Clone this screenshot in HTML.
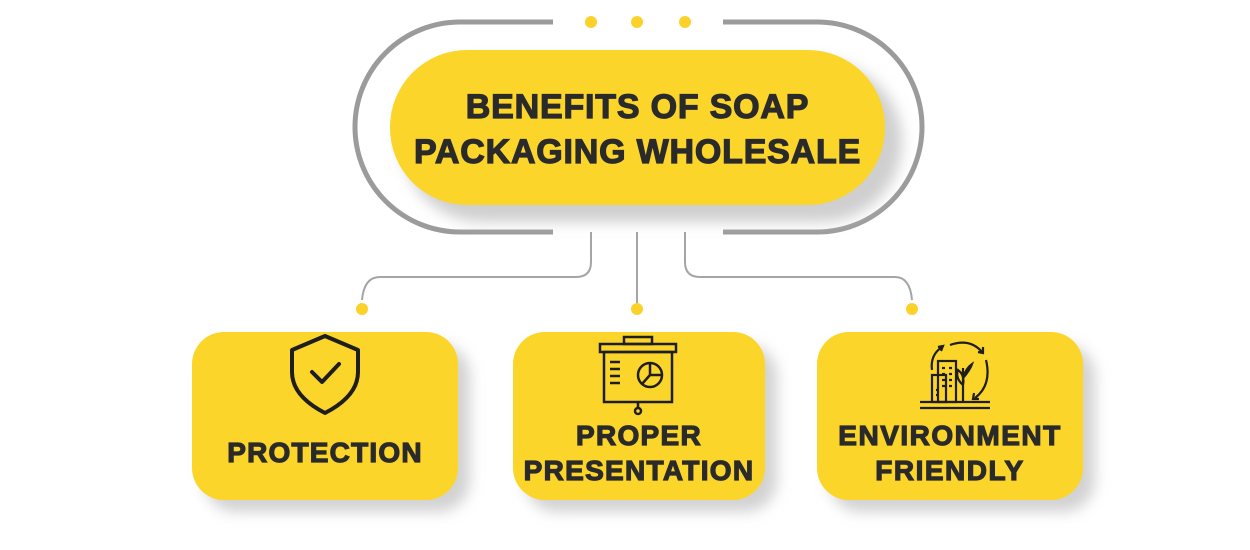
<!DOCTYPE html>
<html><head><meta charset="utf-8"><style>
html,body{margin:0;padding:0;background:#fff;}
body{width:1250px;height:550px;position:relative;overflow:hidden;font-family:"Liberation Sans",sans-serif;}
.t{position:absolute;font-weight:900;color:#2a2a2a;text-align:center;white-space:nowrap;-webkit-text-stroke:1.2px #2a2a2a;}
</style></head><body>
<svg width="1250" height="550" style="position:absolute;left:0;top:0">
<defs>
<filter id="sh" x="-20%" y="-20%" width="150%" height="160%"><feGaussianBlur stdDeviation="7"/></filter>
</defs>
<path d="M553 22 H460 A105 105 0 0 0 460 232 H553" fill="none" stroke="#9b9b9b" stroke-width="5"/>
<path d="M723 22 H817 A105 105 0 0 1 817 232 H723" fill="none" stroke="#9b9b9b" stroke-width="5"/>
<circle cx="591" cy="22" r="6" fill="#fcd22a"/>
<circle cx="637" cy="22" r="6" fill="#fcd22a"/>
<circle cx="685" cy="22" r="6" fill="#fcd22a"/>
<rect x="402" y="62" width="500" height="160" rx="80" fill="#cfcfcf" filter="url(#sh)"/>
<rect x="390" y="50" width="495" height="155" rx="77" fill="#fcd52a"/>
<g fill="none" stroke="#a5a5a5" stroke-width="2">
<path d="M591 232 V262 Q591 277 576 277 H380 Q364 277 362 300"/>
<path d="M637 232 V305"/>
<path d="M685 232 V262 Q685 277 700 277 H895 Q910 277 912 300"/>
</g>
<circle cx="362" cy="309" r="6" fill="#fcd22a"/>
<circle cx="637" cy="309" r="6" fill="#fcd22a"/>
<circle cx="912" cy="309" r="6" fill="#fcd22a"/>
<rect x="204" y="344" width="266" height="168" rx="32" fill="#d2d2d2" filter="url(#sh)"/>
<rect x="525" y="344" width="252" height="168" rx="32" fill="#d2d2d2" filter="url(#sh)"/>
<rect x="829" y="344" width="266" height="168" rx="32" fill="#d2d2d2" filter="url(#sh)"/>
<rect x="192" y="332" width="266" height="168" rx="32" fill="#fcd52a"/>
<rect x="513" y="332" width="252" height="168" rx="32" fill="#fcd52a"/>
<rect x="817" y="332" width="266" height="168" rx="32" fill="#fcd52a"/>
<g fill="none" stroke="#1e1e1e" stroke-width="4" stroke-linejoin="round" stroke-linecap="round">
<path d="M325 336 L358 350 V372 Q358 396 325 413 Q292 396 292 372 V350 Z"/>
<path d="M312 372 L322 382 L339 364"/>
</g>
<g fill="none" stroke="#1e1e1e" stroke-width="2.5">
<rect x="624" y="337" width="28" height="7"/>
<rect x="600" y="344" width="76" height="8"/>
<rect x="604" y="352" width="68" height="50"/>
<path d="M610 362h10M610 369h10M610 376h10M610 383h10"/>
<circle cx="650" cy="375" r="12"/>
<path d="M650 363 V375 H662 M650 375 L642 384"/>
<path d="M638 402 V408"/><circle cx="638" cy="411" r="3"/>
</g>
<g fill="none" stroke="#1e1e1e" stroke-width="2.2">
<path d="M920 402 H990 M920 408 H990"/>
<rect x="932" y="375" width="14" height="27"/>
<rect x="938" y="361" width="18" height="41"/>
<path d="M942 368h3M949 368h3M942 374h3M949 374h3M942 380h3M949 380h3M942 386h3M949 386h3M936 390h3M936 395h3"/>
<path d="M963 402 V368 M963 385 Q955 378 958 370 Q965 375 963 385 M963 378 Q970 370 972 364 Q966 368 963 378"/>
<path d="M932 370 Q930 355 942 347 M938 347 L943 346 L941 351"/>
<path d="M950 345 Q970 338 982 352 M978 352 L983 353 L983 347"/>
<path d="M986 360 Q992 385 975 398 M974 393 L973 399 L979 399"/>
</g>
</svg>
<div class="t" style="left:390px;top:85px;width:495px;font-size:34px;line-height:45px;letter-spacing:0.8px;">BENEFITS OF SOAP<br>PACKAGING WHOLESALE</div>
<div class="t" style="left:192px;top:435px;width:266px;font-size:28px;line-height:36px;letter-spacing:1.2px;">PROTECTION</div>
<div class="t" style="left:513px;top:418px;width:252px;font-size:28px;line-height:35px;letter-spacing:1.3px;">PROPER<br>PRESENTATION</div>
<div class="t" style="left:817px;top:418px;width:266px;font-size:28px;line-height:35px;letter-spacing:1.5px;">ENVIRONMENT<br>FRIENDLY</div>
</body></html>
